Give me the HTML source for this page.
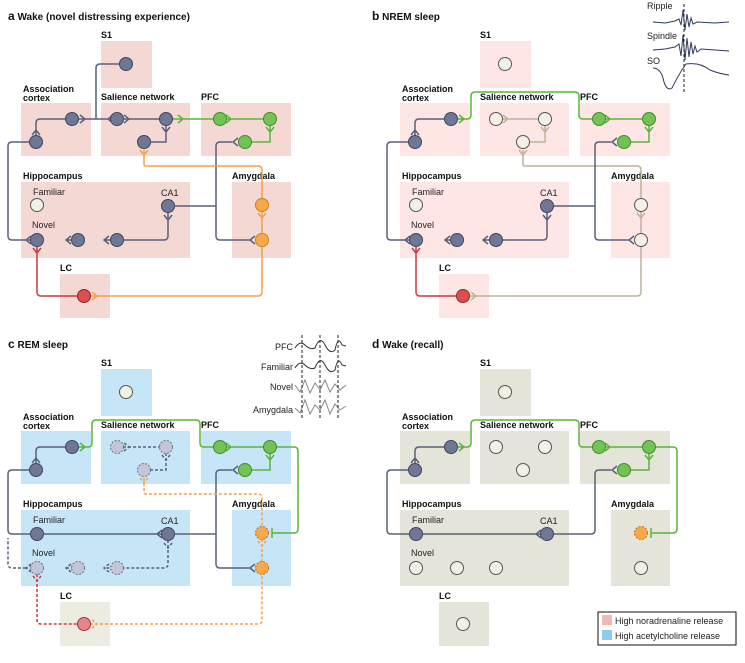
<!DOCTYPE html>
<html><head><meta charset="utf-8"><style>
body{margin:0;background:#fff}
svg{display:block;font-family:"Liberation Sans",sans-serif}
.t{font-weight:bold;font-size:9px;fill:#111}
.n{font-size:9px;fill:#222}
.h{font-weight:bold;font-size:10px;fill:#111}
.g{stroke:#59607a;stroke-width:1.5;fill:none}
.gr{stroke:#5bb43c;stroke-width:1.5;fill:none}
.or{stroke:#f2a04a;stroke-width:1.5;fill:none}
.rd{stroke:#c93a3e;stroke-width:1.5;fill:none}
.tn{stroke:#bfb29c;stroke-width:1.5;fill:none}
.d{stroke-dasharray:3,2}
.cd{fill:#6f7794;stroke:#3f4661;stroke-width:1}
.cg{fill:#72c255;stroke:#3f8f2a;stroke-width:1}
.co{fill:#f7a84a;stroke:#d07d20;stroke-width:1}
.cr{fill:#dc4e50;stroke:#8e2a2a;stroke-width:1}
.cp{fill:#f1f1e6;stroke:#555;stroke-width:1}
.cl{fill:#c3c5d8;stroke:#6a6f88;stroke-width:1;stroke-dasharray:2,1.5}
.cod{fill:#f7a84a;stroke:#c07020;stroke-width:1;stroke-dasharray:2,1.5}
.crd{fill:#e8848a;stroke:#a03a40;stroke-width:1}
</style></head><body>
<svg width="745" height="663" viewBox="0 0 745 663">
<defs>
<g id="labels">
<text class="t" x="101" y="38">S1</text>
<text class="t" x="23" y="92">Association</text>
<text class="t" x="23" y="101">cortex</text>
<text class="t" x="101" y="100">Salience network</text>
<text class="t" x="201" y="100">PFC</text>
<text class="t" x="23" y="179">Hippocampus</text>
<text class="t" x="232" y="179">Amygdala</text>
<text class="t" x="60" y="271">LC</text>
<text class="n" x="33" y="195">Familiar</text>
<text class="n" x="161" y="196">CA1</text>
<text class="n" x="32" y="228">Novel</text>
</g>
</defs>

<!-- PANEL A -->
<g>
<text class="h" x="8" y="20"><tspan font-size="12">a</tspan>  Wake (novel distressing experience)</text>
<g fill="#f4d8d4">
<rect x="101" y="41" width="51" height="47"/><rect x="21" y="103" width="70" height="53"/><rect x="101" y="103" width="89" height="53"/><rect x="201" y="103" width="90" height="53"/><rect x="21" y="182" width="169" height="76"/><rect x="232" y="182" width="59" height="76"/><rect x="60" y="274" width="50" height="44"/>
</g>
<use href="#labels"/>
<path class="g" d="M120,64H100Q96,64 96,68V119M78,119H108M80,115L85,119L80,123M113,115L108,119L113,123M123,119H160M124,115L129,119L124,123M166,125V142H150M162,127L166,132L170,127M232,142H220Q216,142 216,146V236Q216,240 220,240H250M238,138L233,142L238,146M255,236L250,240L255,244M174,206H216M168,212V236Q168,240 164,240H104M164,215L168,220L172,215M109,236L104,240L109,244M84,240H66M71,236L66,240L71,244M43,240H26M31,236L26,240L31,244M26,240H12Q8,240 8,236V146Q8,142 12,142H30M36,136V123Q36,119 40,119H66M32,135L36,130L40,135"/>
<path class="gr" d="M172,119H214M178,115L183,119L178,123M226,115L231,119L226,123M226,119H264M270,125V142H251M266,127L270,132L274,127"/>
<path class="or" d="M144,150V164Q144,166 146,166H258Q262,166 262,170V199M140,150L144,155L148,150M262,211V234M258,213L262,218L266,213M90,296H258Q262,296 262,292V246M92,292L97,296L92,300"/>
<path class="rd" d="M37,246V292Q37,296 41,296H78M33,248L37,253L41,248"/>
<circle class="cd" cx="126" cy="64" r="6.5"/><circle class="cd" cx="72" cy="119" r="6.5"/><circle class="cd" cx="36" cy="142" r="6.5"/>
<circle class="cd" cx="117" cy="119" r="6.5"/><circle class="cd" cx="166" cy="119" r="6.5"/><circle class="cd" cx="144" cy="142" r="6.5"/>
<circle class="cg" cx="220" cy="119" r="6.5"/><circle class="cg" cx="270" cy="119" r="6.5"/><circle class="cg" cx="245" cy="142" r="6.5"/>
<circle class="cp" cx="37" cy="205" r="6.5"/><circle class="cd" cx="168" cy="206" r="6.5"/><circle class="cd" cx="37" cy="240" r="6.5"/><circle class="cd" cx="78" cy="240" r="6.5"/><circle class="cd" cx="117" cy="240" r="6.5"/>
<circle class="co" cx="262" cy="205" r="6.5"/><circle class="co" cx="262" cy="240" r="6.5"/><circle class="cr" cx="84" cy="296" r="6.5"/>
</g>

<!-- PANEL B -->
<g transform="translate(379,0)">
<text class="h" x="-7" y="20"><tspan font-size="12">b</tspan>  NREM sleep</text>
<g fill="#fde6e4">
<rect x="101" y="41" width="51" height="47"/><rect x="21" y="103" width="70" height="53"/><rect x="101" y="103" width="89" height="53"/><rect x="201" y="103" width="90" height="53"/><rect x="21" y="182" width="169" height="76"/><rect x="232" y="182" width="59" height="76"/><rect x="60" y="274" width="50" height="44"/>
</g>
<use href="#labels"/>
<path class="gr" d="M78,119H88Q92,119 92,115V96Q92,92 96,92H196Q200,92 200,96V115Q200,119 204,119H214M80,115L85,119L80,123M226,115L231,119L226,123M226,119H264M270,125V142H251M266,127L270,132L274,127"/>
<path class="tn" d="M123,119H160M124,115L129,119L124,123M166,125V142H150M162,127L166,132L170,127M144,150V164Q144,166 146,166H258Q262,166 262,170V199M140,150L144,155L148,150M262,211V234M258,213L262,218L266,213M90,296H258Q262,296 262,292V246M92,292L97,296L92,300"/>
<path class="g" d="M232,142H220Q216,142 216,146V236Q216,240 220,240H250M238,138L233,142L238,146M255,236L250,240L255,244M174,206H216M168,212V236Q168,240 164,240H104M164,215L168,220L172,215M109,236L104,240L109,244M84,240H66M71,236L66,240L71,244M43,240H26M31,236L26,240L31,244M26,240H12Q8,240 8,236V146Q8,142 12,142H30M36,136V123Q36,119 40,119H66M32,135L36,130L40,135"/>
<path class="rd" d="M37,246V292Q37,296 41,296H78M33,248L37,253L41,248"/>
<circle class="cp" cx="126" cy="64" r="6.5"/><circle class="cd" cx="72" cy="119" r="6.5"/><circle class="cd" cx="36" cy="142" r="6.5"/>
<circle class="cp" cx="117" cy="119" r="6.5"/><circle class="cp" cx="166" cy="119" r="6.5"/><circle class="cp" cx="144" cy="142" r="6.5"/>
<circle class="cg" cx="220" cy="119" r="6.5"/><circle class="cg" cx="270" cy="119" r="6.5"/><circle class="cg" cx="245" cy="142" r="6.5"/>
<circle class="cp" cx="37" cy="205" r="6.5"/><circle class="cd" cx="168" cy="206" r="6.5"/><circle class="cd" cx="37" cy="240" r="6.5"/><circle class="cd" cx="78" cy="240" r="6.5"/><circle class="cd" cx="117" cy="240" r="6.5"/>
<circle class="cp" cx="262" cy="205" r="6.5"/><circle class="cp" cx="262" cy="240" r="6.5"/><circle class="cr" cx="84" cy="296" r="6.5"/>
</g>
<!-- NREM waves -->
<g>
<text class="n" x="647" y="9">Ripple</text>
<text class="n" x="647" y="39">Spindle</text>
<text class="n" x="647" y="64">SO</text>
<path stroke="#2f3a5c" stroke-width="1" fill="none" d="M653,22L665,23L675,21L679,19L681,25L683,10L685,30L687,14L689,27L691,18L693,24L697,22L715,23L729,22"/>
<path stroke="#2f3a5c" stroke-width="1" fill="none" d="M653,50L665,49L675,47L679,44L681,56L683,35L685,60L687,38L689,57L691,42L693,54L695,46L697,52L701,49L715,50L729,51"/>
<path stroke="#2f3a5c" stroke-width="1" fill="none" d="M653,68Q660,68 663,78Q666,92 672,88Q680,72 686,64Q700,62 710,70Q720,74 729,75"/>
<path stroke="#222" stroke-width="1" stroke-dasharray="3,2" d="M684,4V92"/>
</g>

<!-- PANEL C -->
<g transform="translate(0,328)">
<text class="h" x="8" y="20"><tspan font-size="12">c</tspan>  REM sleep</text>
<g fill="#c6e6f8">
<rect x="101" y="41" width="51" height="47"/><rect x="21" y="103" width="70" height="53"/><rect x="101" y="103" width="89" height="53"/><rect x="201" y="103" width="90" height="53"/><rect x="21" y="182" width="169" height="76"/><rect x="232" y="182" width="59" height="76"/>
</g>
<rect x="60" y="274" width="50" height="44" fill="#ecece0"/>
<use href="#labels"/>
<path class="gr" d="M78,119H88Q92,119 92,115V96Q92,92 96,92H196Q200,92 200,96V115Q200,119 204,119H214M80,115L85,119L80,123M226,115L231,119L226,123M226,119H264M270,125V142H251M266,127L270,132L274,127M276,119H294Q298,119 298,123V201Q298,205 294,205H272M272,200V210"/>
<path class="g d" stroke="#7a7f98" d="M123,119H160M124,115L129,119L124,123M166,125V142H150M162,127L166,132L170,127M168,212V236Q168,240 164,240H104M164,215L168,220L172,215M109,236L104,240L109,244M84,240H66M71,236L66,240L71,244M43,240H26M31,236L26,240L31,244M26,240H12Q8,240 8,236V210"/>
<path class="g" d="M232,142H220Q216,142 216,146V236Q216,240 220,240H250M238,138L233,142L238,146M255,236L250,240L255,244M174,206H216M162,206H43M162,202L157,206L162,210M31,206H12Q8,206 8,202V146Q8,142 12,142H30M36,202L31,206L36,210M36,136V123Q36,119 40,119H66M32,135L36,130L40,135"/>
<path class="or d" d="M144,150V164Q144,166 146,166H258Q262,166 262,170V199M140,150L144,155L148,150M262,211V234M258,213L262,218L266,213M90,296H258Q262,296 262,292V246M92,292L97,296L92,300"/>
<path class="rd d" stroke="#d0687a" d="M37,246V292Q37,296 41,296H78M33,248L37,253L41,248"/>
<circle class="cp" cx="126" cy="64" r="6.5"/><circle class="cd" cx="72" cy="119" r="6.5"/><circle class="cd" cx="36" cy="142" r="6.5"/>
<circle class="cl" cx="117" cy="119" r="6.5"/><circle class="cl" cx="166" cy="119" r="6.5"/><circle class="cl" cx="144" cy="142" r="6.5"/>
<circle class="cg" cx="220" cy="119" r="6.5"/><circle class="cg" cx="270" cy="119" r="6.5"/><circle class="cg" cx="245" cy="142" r="6.5"/>
<circle class="cd" cx="37" cy="206" r="6.5"/><circle class="cd" cx="168" cy="206" r="6.5"/><circle class="cl" cx="37" cy="240" r="6.5"/><circle class="cl" cx="78" cy="240" r="6.5"/><circle class="cl" cx="117" cy="240" r="6.5"/>
<circle class="cod" cx="262" cy="205" r="6.5"/><circle class="cod" cx="262" cy="240" r="6.5"/><circle class="crd" cx="84" cy="296" r="6.5"/>
</g>
<!-- REM waves -->
<g>
<text class="n" x="293" y="350" text-anchor="end">PFC</text>
<text class="n" x="293" y="370" text-anchor="end">Familiar</text>
<text class="n" x="293" y="390" text-anchor="end">Novel</text>
<text class="n" x="293" y="413" text-anchor="end">Amygdala</text>
<path stroke="#333" stroke-width="1" fill="none" d="M295,348Q300,340 305,345T315,348Q320,335 325,345T335,350Q338,335 342,345L346,346"/>
<path stroke="#333" stroke-width="1" fill="none" d="M295,368Q300,360 305,365T315,368Q320,355 325,365T335,370Q338,355 342,365L346,366"/>
<path stroke="#888" stroke-width="1" fill="none" d="M295,385L300,392L305,380L310,393L315,383L320,390L325,380L330,392L335,384L340,390L346,385"/>
<path stroke="#888" stroke-width="1" fill="none" d="M295,408L300,413L305,400L310,414L315,405L320,410L325,400L330,414L335,404L340,410L346,406"/>
<path stroke="#222" stroke-width="1" stroke-dasharray="3,2" d="M302,335V420M320,335V420M338,335V420"/>
</g>

<!-- PANEL D -->
<g transform="translate(379,328)">
<text class="h" x="-7" y="20"><tspan font-size="12">d</tspan>  Wake (recall)</text>
<g fill="#e5e4d8">
<rect x="101" y="41" width="51" height="47"/><rect x="21" y="103" width="70" height="53"/><rect x="101" y="103" width="89" height="53"/><rect x="201" y="103" width="90" height="53"/><rect x="21" y="182" width="169" height="76"/><rect x="232" y="182" width="59" height="76"/><rect x="60" y="274" width="50" height="44"/>
</g>
<use href="#labels"/>
<path class="gr" d="M78,119H88Q92,119 92,115V96Q92,92 96,92H196Q200,92 200,96V115Q200,119 204,119H214M80,115L85,119L80,123M226,115L231,119L226,123M226,119H264M270,125V142H251M266,127L270,132L274,127M276,119H294Q298,119 298,123V201Q298,205 294,205H272M272,200V210"/>
<path class="g" d="M232,142H220Q216,142 216,146V202Q216,206 212,206H174M238,138L233,142L238,146M162,206H43M162,202L157,206L162,210M31,206H12Q8,206 8,202V146Q8,142 12,142H30M36,202L31,206L36,210M36,136V123Q36,119 40,119H66M32,135L36,130L40,135"/>
<circle class="cp" cx="126" cy="64" r="6.5"/><circle class="cd" cx="72" cy="119" r="6.5"/><circle class="cd" cx="36" cy="142" r="6.5"/>
<circle class="cp" cx="117" cy="119" r="6.5"/><circle class="cp" cx="166" cy="119" r="6.5"/><circle class="cp" cx="144" cy="142" r="6.5"/>
<circle class="cg" cx="220" cy="119" r="6.5"/><circle class="cg" cx="270" cy="119" r="6.5"/><circle class="cg" cx="245" cy="142" r="6.5"/>
<circle class="cd" cx="37" cy="206" r="6.5"/><circle class="cd" cx="168" cy="206" r="6.5"/><circle class="cp" cx="37" cy="240" r="6.5"/><circle class="cp" cx="78" cy="240" r="6.5"/><circle class="cp" cx="117" cy="240" r="6.5"/>
<circle class="cod" cx="262" cy="205" r="6.5"/><circle class="cp" cx="262" cy="240" r="6.5"/><circle class="cp" cx="84" cy="296" r="6.5"/>
</g>

<!-- Legend -->
<rect x="598" y="612" width="138" height="33" fill="#fff" stroke="#111" stroke-width="1"/>
<rect x="602" y="615" width="10" height="10" fill="#f1b8b4"/>
<rect x="602" y="630" width="10" height="10" fill="#8fcbef"/>
<text class="n" x="615" y="624">High noradrenaline release</text>
<text class="n" x="615" y="639">High acetylcholine release</text>
</svg>
</body></html>
